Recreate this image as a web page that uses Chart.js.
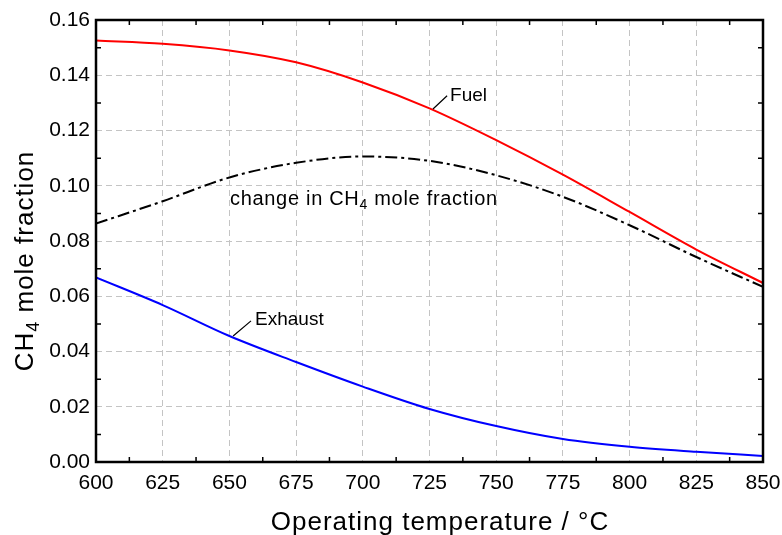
<!DOCTYPE html>
<html lang="en">
<head>
    <meta charset="UTF-8">
    <title>CH4 mole fraction vs operating temperature</title>
    <script src="https://cdn.jsdelivr.net/npm/chart.js"></script>
    <style>
        body { margin: 0; background: #fff; }
    </style>
</head>
<body>
    <canvas id="ch4Chart" width="782" height="535"></canvas>
    <script>
        // Operating temperature (°C)
        const temps = [600, 625, 650, 675, 700, 725, 750, 775, 800, 825, 850];
        // CH4 mole fraction
        const fuel    = [0.1526, 0.1514, 0.1490, 0.1447, 0.1374, 0.1280, 0.1165, 0.1040, 0.0905, 0.0769, 0.0648];
        const exhaust = [0.0668, 0.0568, 0.0456, 0.0362, 0.0273, 0.0192, 0.0130, 0.0083, 0.0055, 0.0037, 0.0022];
        const change  = [0.0863, 0.0944, 0.1030, 0.1083, 0.1106, 0.1090, 0.1038, 0.0960, 0.0857, 0.0742, 0.0634];

        // minor (unlabelled) tick positions
        const minorX = [612.5, 637.5, 662.5, 687.5, 712.5, 737.5, 762.5, 787.5, 812.5, 837.5];
        const minorY = [0.01, 0.03, 0.05, 0.07, 0.09, 0.11, 0.13, 0.15];

        const FONT = "'Liberation Sans', Arial, sans-serif";
        Chart.defaults.font.family = FONT;
        Chart.defaults.color = '#000';

        const pts = arr => temps.map((t, i) => ({ x: t, y: arr[i] }));

        // draw a string made of parts, some of them subscript
        function drawParts(ctx, parts, x, y, size, align) {
            const sub = Math.round(size * 0.7);
            let w = 0;
            parts.forEach(p => {
                ctx.font = (p.sub ? sub : size) + 'px ' + FONT;
                w += ctx.measureText(p.t).width;
            });
            let cx = align === 'center' ? x - w / 2 : x;
            parts.forEach(p => {
                ctx.font = (p.sub ? sub : size) + 'px ' + FONT;
                ctx.fillText(p.t, cx, p.sub ? y + size * 0.22 : y);
                cx += ctx.measureText(p.t).width;
            });
        }

        const decorations = {
            id: 'decorations',
            afterDatasetsDraw(chart) {
                const { ctx, scales: { x, y } } = chart;
                ctx.save();
                ctx.fillStyle = '#000';
                ctx.strokeStyle = '#000';
                ctx.textAlign = 'left';
                ctx.textBaseline = 'alphabetic';

                // leader lines
                ctx.lineWidth = 1.2;
                ctx.beginPath();
                ctx.moveTo(x.getPixelForValue(726.3), y.getPixelForValue(0.1278));
                ctx.lineTo(x.getPixelForValue(731.6), y.getPixelForValue(0.1326));
                ctx.moveTo(x.getPixelForValue(651.4), y.getPixelForValue(0.0456));
                ctx.lineTo(x.getPixelForValue(658.1), y.getPixelForValue(0.0511));
                ctx.stroke();

                ctx.font = '19px ' + FONT;
                ctx.fillText('Fuel', x.getPixelForValue(732.7), y.getPixelForValue(0.1307));
                ctx.fillText('Exhaust', x.getPixelForValue(659.6), y.getPixelForValue(0.0495));

                ctx.letterSpacing = '0.7px';
                drawParts(ctx, [{ t: 'change in CH' }, { t: '4', sub: true }, { t: ' mole fraction' }],
                    x.getPixelForValue(650.2), y.getPixelForValue(0.0932), 20, 'left');
                ctx.restore();
            },
            afterDraw(chart) {
                const { ctx, chartArea: a, scales: { x, y } } = chart;
                ctx.save();
                ctx.strokeStyle = '#000';
                ctx.lineWidth = 1.5;
                ctx.beginPath();
                minorX.forEach(v => {
                    const px = x.getPixelForValue(v);
                    ctx.moveTo(px, a.bottom); ctx.lineTo(px, a.bottom - 5);
                    ctx.moveTo(px, a.top); ctx.lineTo(px, a.top + 5);
                });
                minorY.forEach(v => {
                    const py = y.getPixelForValue(v);
                    ctx.moveTo(a.left, py); ctx.lineTo(a.left + 5, py);
                    ctx.moveTo(a.right, py); ctx.lineTo(a.right - 5, py);
                });
                ctx.stroke();

                ctx.lineWidth = 2.5;
                ctx.strokeRect(a.left, a.top, a.right - a.left, a.bottom - a.top);

                // axis titles
                ctx.fillStyle = '#000';
                ctx.textBaseline = 'alphabetic';
                ctx.letterSpacing = '1px';
                ctx.textAlign = 'center';
                ctx.font = '26px ' + FONT;
                ctx.fillText('Operating temperature / °C', 440, 530);

                ctx.textAlign = 'left';
                ctx.translate(33, 261);
                ctx.rotate(-Math.PI / 2);
                drawParts(ctx, [{ t: 'CH' }, { t: '4', sub: true }, { t: ' mole fraction' }], 0, 0, 26, 'center');
                ctx.restore();
            }
        };

        const ctx = document.getElementById('ch4Chart').getContext('2d');
        new Chart(ctx, {
            type: 'line',
            data: {
                datasets: [
                    { label: 'Fuel', data: pts(fuel), borderColor: '#ff0000', borderWidth: 2 },
                    { label: 'Change in CH4 mole fraction', data: pts(change), borderColor: '#000', borderWidth: 2,
                      borderDash: [12, 4, 3, 4] },
                    { label: 'Exhaust', data: pts(exhaust), borderColor: '#0000ff', borderWidth: 2 }
                ]
            },
            options: {
                responsive: false,
                animation: false,
                devicePixelRatio: 1,
                elements: {
                    point: { radius: 0 },
                    line: { cubicInterpolationMode: 'monotone' }
                },
                layout: { padding: { top: 20, right: 19, left: 0, bottom: 0 } },
                plugins: { legend: { display: false }, tooltip: { enabled: false } },
                scales: {
                    x: {
                        type: 'linear',
                        min: 600,
                        max: 850,
                        ticks: { stepSize: 25, font: { size: 21 }, padding: 9, maxRotation: 0 },
                        grid: { color: '#c4c4c4', lineWidth: 1, drawTicks: false },
                        border: { display: false, dash: [6, 4] },
                        afterFit: s => { s.height = 73; s.paddingLeft = 0; s.paddingRight = 0; }
                    },
                    y: {
                        min: 0,
                        max: 0.16,
                        ticks: { stepSize: 0.02, font: { size: 21 }, padding: 6,
                                 callback: v => v.toFixed(2) },
                        grid: { color: '#c4c4c4', lineWidth: 1, drawTicks: false },
                        border: { display: false, dash: [6, 4] },
                        afterFit: s => { s.width = 96; s.paddingTop = 0; s.paddingBottom = 0; }
                    }
                }
            },
            plugins: [decorations]
        });
    </script>
</body>
</html>
